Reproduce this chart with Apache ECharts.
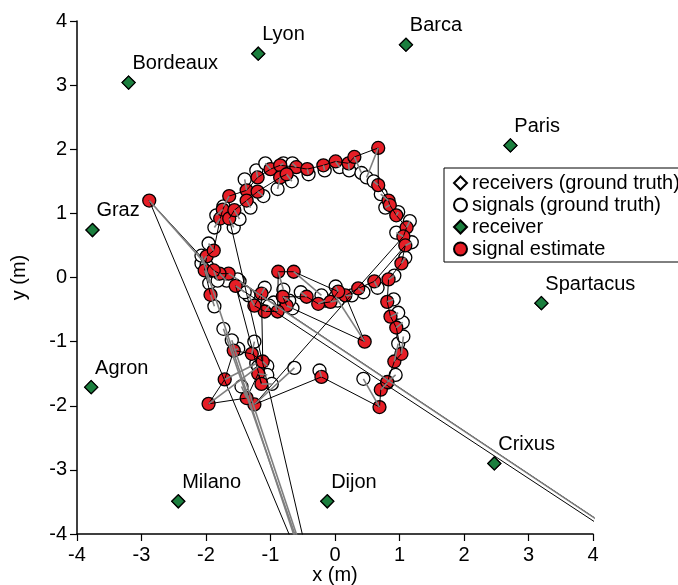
<!DOCTYPE html>
<html><head><meta charset="utf-8">
<script src="https://cdn.jsdelivr.net/npm/echarts@6/dist/echarts.min.js"></script>
<style>html,body{margin:0;padding:0;background:#fff}#c{width:678px;height:585px}</style>
</head><body><div id="c"></div>
<script>
// Receivers (labelled anchors)
const receiverNames = ['Bordeaux','Lyon','Barca','Paris','Graz','Spartacus','Agron','Crixus','Milano','Dijon'];
const receiverX = [-3.20,-1.19,1.10,2.72,-3.76,3.20,-3.78,2.47,-2.43,-0.12];
const receiverY = [3.04,3.49,3.63,2.06,0.74,-0.40,-1.71,-2.90,-3.49,-3.49];
// Receivers ground truth (coincide with estimated receivers)
const receiverTrueX = [-3.20,-1.19,1.10,2.72,-3.76,3.20,-3.78,2.47,-2.43,-0.12];
const receiverTrueY = [3.04,3.49,3.63,2.06,0.74,-0.40,-1.71,-2.90,-3.49,-3.49];

// Signal estimates, in trajectory order (some fall outside the plotted range)
const estX = [-1.93,-2.02,-1.99,-1.88,-1.78,-1.74,-1.64,-1.37,-1.20,-1.00,-0.85,-0.60,-0.43,-0.18,0.01,0.21,0.30,0.67,0.67,0.83,0.85,0.95,1.11,1.06,
  -1.25,-0.21,0.69,0.71,0.81,0.92,1.03,0.95,0.86,0.81,0.83,1.03,1.09,0.61,0.36,0.16,0.46,-0.75,-0.81,-0.44,-0.26,-0.07,0.05,-0.64,-0.88,-0.89,-1.09,-1.25,-1.14,
  -1.12,-1.29,-1.57,-1.71,-1.96,-1.37,-1.19,-1.14,-1.54,10.3,-1.65,-1.79,-1.88,-2.88,-0.38,-0.33,-0.30,-1.64,-1.56,-1.37,-1.20,-0.85,-0.75];
const estY = [-0.27,0.11,0.33,0.42,0.92,1.06,1.27,1.36,1.56,1.69,1.75,1.72,1.69,1.75,1.81,1.78,1.88,2.02,1.44,1.20,1.13,0.97,0.78,0.64,
  -1.98,-1.55,-2.02,-1.75,-1.63,-1.31,-1.19,-0.78,-0.61,-0.38,-0.03,0.22,0.50,-0.06,-0.17,-0.28,-1.00,-0.44,-0.30,-0.30,-0.41,-0.38,-0.22,0.09,0.09,-0.53,-0.53,-0.44,-0.25,
  -1.31,-1.19,-1.14,-1.59,-1.97,-1.88,-1.50,-1.66,-0.13,-7.96,0.06,0.06,0.11,1.20,-4.80,-4.85,-4.90,0.92,1.05,1.20,1.34,1.56,1.61];
// Signals ground truth, paired with the estimates above
const truthX = [-1.87,-1.95,-2.07,-1.96,-1.87,-1.84,-1.73,-1.40,-1.22,-1.08,-0.80,-0.66,-0.41,-0.16,0.07,0.22,0.41,0.49,0.60,0.71,0.78,0.98,1.16,0.95,
  -0.63,-0.24,0.44,0.81,0.94,0.98,1.06,1.05,0.98,0.91,0.92,1.09,1.19,0.66,0.44,0.26,0.01,-0.66,-0.71,-0.53,-0.15,0.04,0.01,-0.21,-0.80,-0.95,-1.02,-1.34,-1.09,
  -1.05,-1.25,-1.50,-1.22,-1.19,-1.45,-1.05,-0.98,-1.40,-1.48,-1.51,-1.68,-1.82,-1.99,-2.07,-1.73,-1.60,-1.57,-1.48,-1.31,-1.11,-0.89,-0.67];
const truthY = [-0.45,-0.09,0.22,0.53,0.78,0.97,1.11,1.53,1.67,1.78,1.78,1.78,1.61,1.67,1.72,1.67,1.63,1.56,1.50,1.30,1.09,1.02,0.88,0.70,
  -1.41,-1.45,-1.58,-1.64,-1.52,-1.03,-0.92,-0.70,-0.55,-0.34,0.03,0.31,0.55,-0.16,-0.23,-0.28,-0.30,-0.48,-0.36,-0.23,-0.36,-0.36,-0.14,-0.28,-0.19,-0.39,-0.44,-0.28,-0.16,
  -1.38,-1.00,-1.11,-1.34,-1.39,-1.70,-1.52,-1.66,-0.23,-0.06,-0.03,-0.05,-0.05,0.19,0.34,-0.80,-0.98,0.78,0.91,1.09,1.27,1.38,1.50];

const xTicks = [-4,-3,-2,-1,0,1,2,3,4];
const yTicks = [-4,-3,-2,-1,0,1,2,3,4];

const FONT = '"Liberation Sans", Arial, sans-serif';
const chart = echarts.init(document.getElementById('c'), null, {renderer:'canvas'});

const estPts = estX.map((x,i)=>[x, estY[i]]);
const truthPts = truthX.map((x,i)=>[x, truthY[i]]);

const series = [
  {name:'receivers (ground truth)', type:'scatter', symbol:'diamond', symbolSize:13,
   data: receiverTrueX.map((x,i)=>[x, receiverTrueY[i]]),
   itemStyle:{color:'#ffffff', borderColor:'#000', borderWidth:1.2, opacity:1}, z:3, silent:true},
  {name:'receiver', type:'scatter', symbol:'diamond', symbolSize:13,
   data: receiverX.map((x,i)=>({name:receiverNames[i], value:[x, receiverY[i]]})),
   itemStyle:{color:'#1b7f3e', borderColor:'#000', borderWidth:1.2, opacity:1},
   label:{show:true, formatter:'{b}', position:[11,-12], align:'left', verticalAlign:'middle',
          fontSize:20, color:'#000', opacity:1, fontFamily:FONT}, z:4, silent:true},
  {name:'signals (ground truth)', type:'scatter', symbol:'circle', symbolSize:13, data: truthPts,
   itemStyle:{color:'#ffffff', borderColor:'#000', borderWidth:1.3, opacity:1}, z:5, silent:true, clip:true},
  {name:'signal estimate', type:'scatter', symbol:'circle', symbolSize:13, data: estPts,
   itemStyle:{color:'#e61e26', borderColor:'#000', borderWidth:1.3, opacity:1}, z:6, silent:true, clip:true},
  {name:'track', type:'line', data: estPts, symbol:'none', showSymbol:false, clip:true,
   lineStyle:{color:'#000', width:1, opacity:1}, z:7, silent:true}
];
truthPts.forEach((p,i)=>{
  series.push({name:'error', type:'line', data:[p, estPts[i]], symbol:'none', showSymbol:false, clip:true,
    lineStyle:{color:'#7f7f7f', width:1.6, opacity:1}, z:8, silent:true});
});

const axisCommon = {
  type:'value', min:-4, max:4, interval:1,
  splitLine:{show:false},
  axisLine:{show:true, onZero:false, lineStyle:{color:'#000', width:1.5}},
  axisTick:{show:true, inside:false, length:7, lineStyle:{color:'#000', width:1.2}},
  nameLocation:'middle',
  nameMoveOverlap:false,
  nameTextStyle:{fontSize:20, color:'#000', fontFamily:FONT}
};

chart.setOption({
  animation:false,
  backgroundColor:'#fff',
  grid:{left:77, right:85, top:21, bottom:51, containLabel:false, outerBoundsMode:'none'},
  xAxis:Object.assign({}, axisCommon, {name:'x (m)', nameGap:31,
    axisLabel:{margin:11, fontSize:20, color:'#000', fontFamily:FONT,
      formatter:v=>xTicks.includes(v)?String(v):''}}),
  yAxis:Object.assign({}, axisCommon, {name:'y (m)', nameGap:48,
    axisLabel:{margin:10, fontSize:20, color:'#000', fontFamily:FONT,
      formatter:v=>yTicks.includes(v)?String(v):''}}),
  legend:{
    data:['receivers (ground truth)','signals (ground truth)','receiver','signal estimate'],
    orient:'vertical', left:444, top:168,
    padding:[5,20,3,9], itemGap:2, itemWidth:13, itemHeight:13,
    borderColor:'#000', borderWidth:1, backgroundColor:'#fff',
    textStyle:{fontSize:20, color:'#000', fontFamily:FONT, lineHeight:20},
    selectedMode:false
  },
  series
});
</script></body></html>
